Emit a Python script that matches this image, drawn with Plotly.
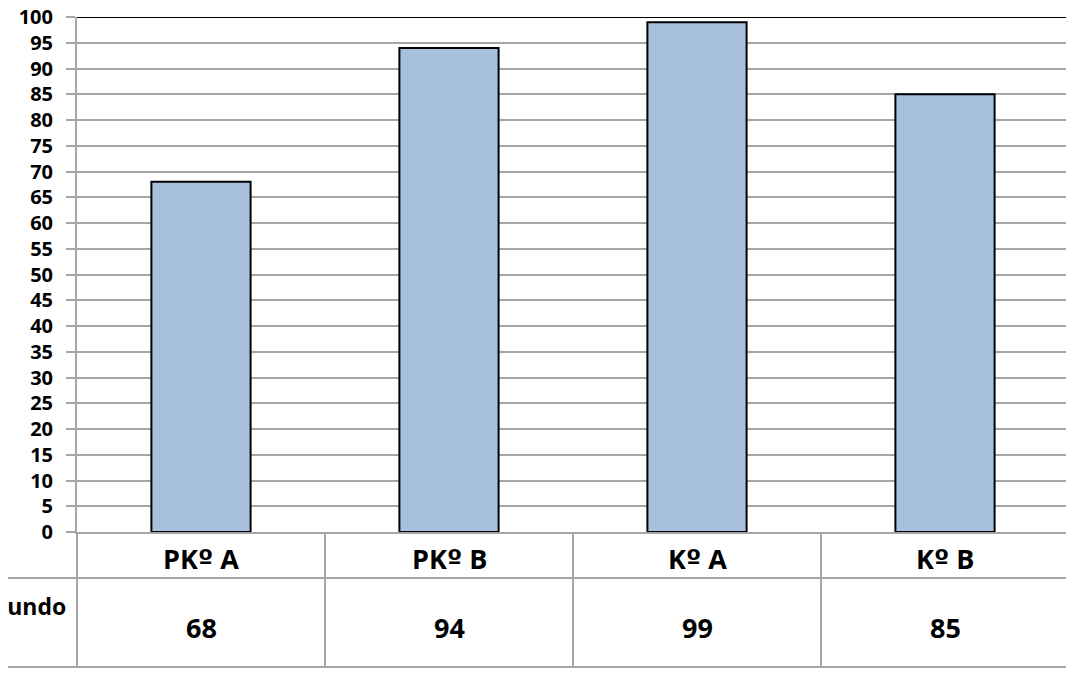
import plotly.graph_objects as go

categories = ["PKº A", "PKº B", "Kº A", "Kº B"]
values = [68, 94, 99, 85]
series_name = "Segundo"
y_ticks = list(range(0, 101, 5))

# page offset of the plotly div (default body margin)
OFF = 8
W, H = 1066, 667
ml, mr, mt, mb = 69, 5, 9, 143
pw = W - ml - mr
ph = H - mt - mb
PL = OFF + ml          # plot left in page px
PB = OFF + H - mb      # plot bottom in page px

def py(px):  # page pixel y -> paper y
    return (PB - px) / ph

def pxx(px):  # page pixel x -> paper x
    return (px - PL) / pw

grid = "#a6a6a6"
font_family = "Open Sans"

def fmt(label):
    return label.replace("º", "<span style='font-family:DejaVu Sans'>º</span>")

fig = go.Figure()
fig.add_trace(go.Bar(
    x=categories, y=values, name=series_name,
    marker=dict(color="#a7c0de", line=dict(color="#000000", width=2)),
    hoverinfo="x+y",
))

shapes = []
shapes.append(dict(type="line", xref="paper", yref="y", x0=0, x1=1, y0=100, y1=100,
                   line=dict(color="#000000", width=2), layer="above"))
for ypx in (578, 667):
    shapes.append(dict(type="line", xref="paper", yref="paper", x0=pxx(0), x1=1, y0=py(ypx), y1=py(ypx),
                       line=dict(color=grid, width=2)))
shapes.append(dict(type="line", xref="paper", yref="paper", x0=0, x1=0, y0=0, y1=py(667),
                   line=dict(color=grid, width=2)))
for i in range(len(categories) - 1):
    shapes.append(dict(type="line", xref="x", yref="paper", x0=i + 0.5, x1=i + 0.5, y0=0, y1=py(667),
                       line=dict(color=grid, width=2)))
shapes.append(dict(type="line", xref="paper", yref="paper", x0=1, x1=1, y0=py(0), y1=py(680),
                   line=dict(color=grid, width=2)))

annotations = []
for c, v in zip(categories, values):
    annotations.append(dict(x=c, xref="x", y=py(558), yref="paper", text=f"<b>{fmt(c)}</b>",
                            showarrow=False, font=dict(family=font_family, size=27, color="#000"),
                            xanchor="center", yanchor="middle"))
    annotations.append(dict(x=c, xref="x", y=py(627), yref="paper", text=f"<b>{v}</b>",
                            showarrow=False, font=dict(family=font_family, size=27, color="#000"),
                            xanchor="center", yanchor="middle"))
annotations.append(dict(x=pxx(68), xref="paper", y=py(606), yref="paper", text=f"<b>{series_name}</b>",
                        showarrow=False, font=dict(family=font_family, size=23, color="#000"),
                        xanchor="right", yanchor="middle"))

fig.update_layout(
    width=W, height=H,
    margin=dict(l=ml, r=mr, t=mt, b=mb),
    paper_bgcolor="white", plot_bgcolor="white",
    showlegend=False,
    bargap=0.6,
    shapes=shapes,
    annotations=annotations,
    xaxis=dict(type="category", showticklabels=False, showgrid=False, zeroline=False,
               showline=True, linecolor=grid, linewidth=2, range=[-0.5, 3.5], ticks=""),
    yaxis=dict(range=[0, 100], tickvals=y_ticks, showgrid=True, gridcolor=grid, gridwidth=1.5,
               zeroline=False, showline=True, linecolor=grid, linewidth=2,
               ticks="outside", ticklen=9, tickcolor=grid, tickwidth=2,
               tickfont=dict(family=font_family, size=20, color="#000", weight="bold"),
               ticklabelstandoff=9, ticklabeloverflow="allow", automargin=False),
)

fig.write_html("out.html")
